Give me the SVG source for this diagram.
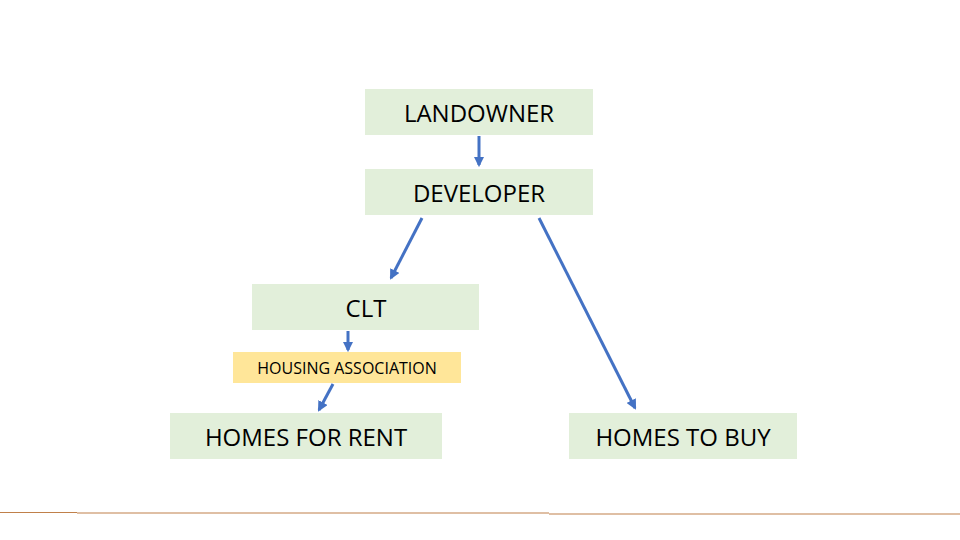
<svg xmlns="http://www.w3.org/2000/svg" width="960" height="540" viewBox="0 0 960 540">
<style>
.g{fill:#e2efda}.y{fill:#ffe699}
text{font-family:"Open Sans","Liberation Sans",sans-serif;fill:#000;text-anchor:middle;dominant-baseline:central}
.c line{stroke:#4472c4;stroke-width:3;marker-end:url(#a)}
</style>
<defs><marker id="a" viewBox="0 0 10 10" refX="8" refY="5" markerWidth="3.5" markerHeight="3.5" orient="auto"><path d="M0,0L10,5L0,10z" fill="#4472c4"/></marker></defs>
<rect width="960" height="540" fill="#fff"/>
<g id="landowner"><rect class="g" x="365" y="89" width="228" height="46"/><text x="479" y="112" font-size="24">LANDOWNER</text></g>
<g id="developer"><rect class="g" x="365" y="169" width="228" height="46"/><text x="479" y="192" font-size="24">DEVELOPER</text></g>
<g id="clt"><rect class="g" x="252" y="284" width="227" height="46"/><text x="366" y="307" font-size="24">CLT</text></g>
<g id="ha"><rect class="y" x="233" y="352" width="228" height="31"/><text x="347" y="368" font-size="16">HOUSING ASSOCIATION</text></g>
<g id="rent"><rect class="g" x="170" y="413" width="272" height="46"/><text x="306" y="436" font-size="24">HOMES FOR RENT</text></g>
<g id="buy"><rect class="g" x="569" y="413" width="228" height="46"/><text x="683" y="436" font-size="24">HOMES TO BUY</text></g>
<g id="connectors" class="c">
<line x1="479" y1="136" x2="479" y2="165"/>
<line x1="422" y1="218" x2="391" y2="278"/>
<line x1="539" y1="218" x2="635" y2="408"/>
<line x1="348" y1="331" x2="348" y2="350"/>
<line x1="333" y1="384" x2="319" y2="410"/>
</g>
<g id="rule" stroke="#c0804a" stroke-width="1.2">
<line x1="0" y1="512.5" x2="77" y2="512.5"/>
<line x1="77" y1="513" x2="549" y2="513"/>
<line x1="549" y1="514" x2="960" y2="514"/>
</g>
</svg>
